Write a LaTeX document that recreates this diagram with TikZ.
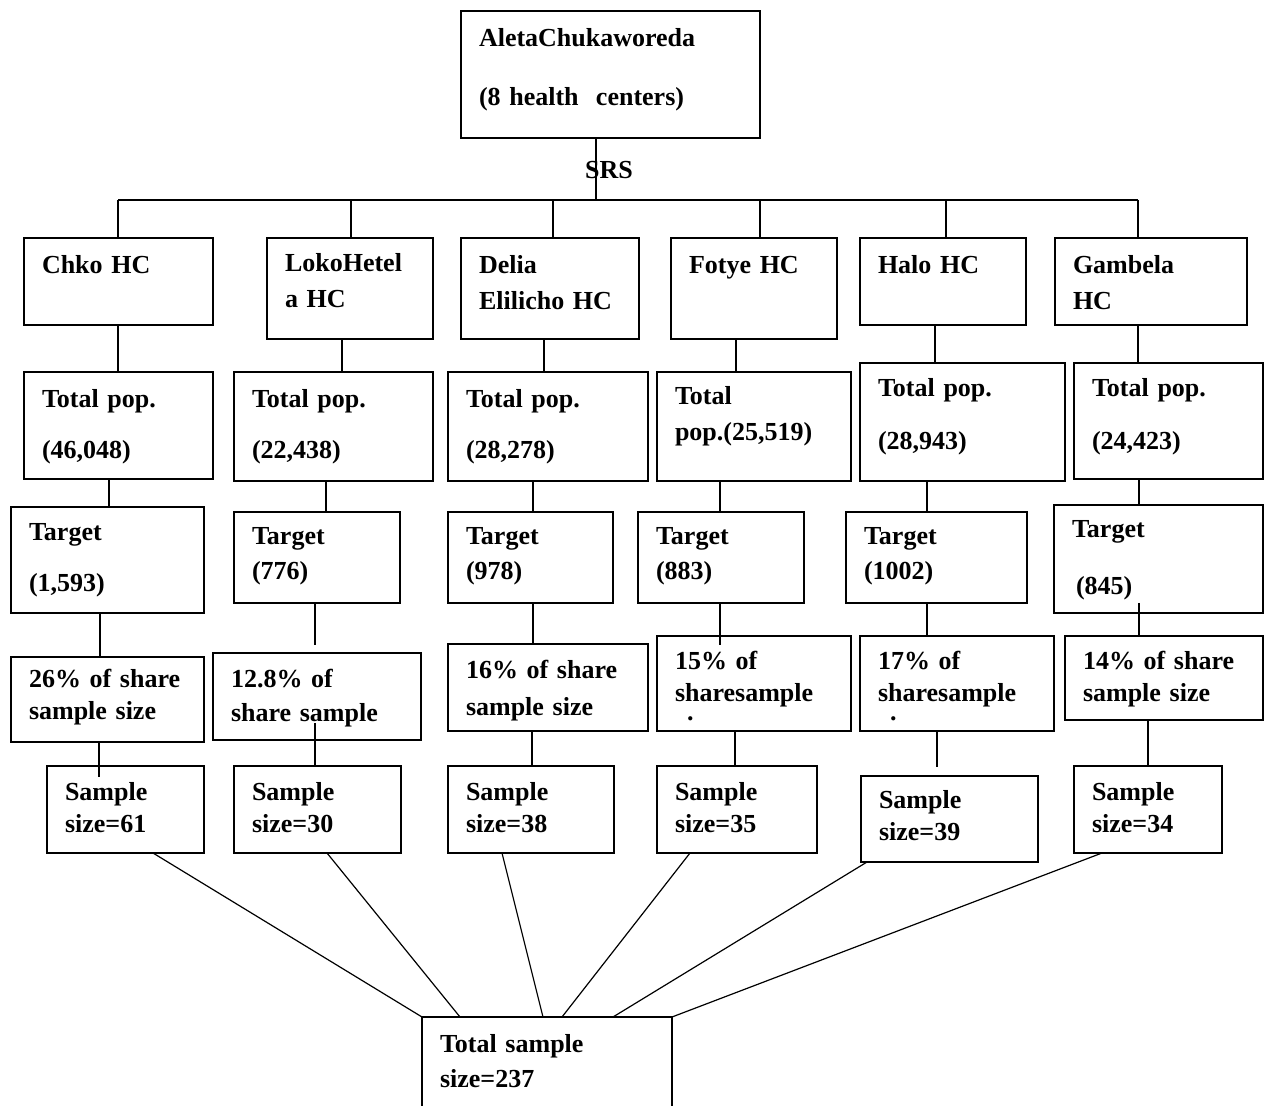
\documentclass[tikz,border=0pt]{standalone}
\usepackage{fontspec}
\setmainfont{Liberation Serif}
\usepackage{tikz}
\usetikzlibrary{calc, positioning}

\begin{document}
\begin{tikzpicture}[x=0.5pt, y=-0.5pt,
    bx/.style={draw, line width=0.8pt, rectangle, anchor=north west, align=left,
        inner xsep=9pt, inner ysep=0pt, outer sep=0pt, text height=18pt,
        font=\fontsize{13}{17}\selectfont\bfseries},
    sz/.style 2 args={text width=#1pt, text depth=#2pt},
    conn/.style={line width=0.7pt},
    fan/.style={line width=0.6pt}]
    \useasboundingbox (0,0) rectangle (1264,1106);

    % 1. Woreda
    \node[bx, sz={131.5}{45.5}] (top) at (461,11) {AletaChukaworeda\\[12.5pt](8 health\ \ centers)};
    \node[font=\fontsize{13}{17}\selectfont\bfseries] (srs) at (609,170) {SRS};

    % 2. Health centers
    \node[bx, sz={76.5}{25.5}] (chko-hc) at (24,238) {Chko HC};
    \node[bx, sz={65}{33.5}, text height=17pt] (loko-hc) at (267,238) {LokoHetel\\[1pt]a HC};
    \node[bx, sz={71}{32.5}] (delia-hc) at (461,238) {Delia\\[1pt]Elilicho HC};
    \node[bx, sz={65}{32.5}] (fotye-hc) at (671,238) {Fotye HC};
    \node[bx, sz={65}{25.5}] (halo-hc) at (860,238) {Halo HC};
    \node[bx, sz={78}{25.5}] (gamb-hc) at (1055,238) {Gambela\\[1pt]HC};

    % 3. Total population
    \node[bx, sz={76.5}{35.5}] (chko-pop) at (24,372) {Total pop.\\[8.5pt](46,048)};
    \node[bx, sz={81.5}{36.5}] (loko-pop) at (234,372) {Total pop.\\[8.5pt](22,438)};
    \node[bx, sz={82}{36.5}] (delia-pop) at (448,372) {Total pop.\\[8.5pt](28,278)};
    \node[bx, sz={79}{38}, text height=16.5pt] (fotye-pop) at (657,372) {Total\\[1pt]pop.(25,519)};
    \node[bx, sz={84.5}{42}, text height=17pt] (halo-pop) at (860,363) {Total pop.\\[9.5pt](28,943)};
    \node[bx, sz={76.5}{41}, text height=17pt] (gamb-pop) at (1074,363) {Total pop.\\[9.5pt](24,423)};

    % 4. Target
    \node[bx, sz={78.5}{36}, text height=17pt] (chko-tgt) at (11,507) {Target\\[8.5pt](1,593)};
    \node[bx, sz={65}{29}, text height=16.5pt] (loko-tgt) at (234,512) {Target\\[0.5pt](776)};
    \node[bx, sz={64.5}{29}, text height=16.5pt] (delia-tgt) at (448,512) {Target\\[0.5pt](978)};
    \node[bx, sz={65}{29}, text height=16.5pt] (fotye-tgt) at (638,512) {Target\\[0.5pt](883)};
    \node[bx, sz={72.5}{29}, text height=16.5pt] (halo-tgt) at (846,512) {Target\\[0.5pt](1002)};
    \node[bx, sz={86.5}{37.5}, text height=16.5pt] (gamb-tgt) at (1054,505) {Target\\[11.5pt]\hspace*{2pt}(845)};

    % 5. Share of sample
    \node[bx, sz={78.5}{27}, text height=15.5pt] (chko-shr) at (11,657) {26\% of share\\[-1pt]sample size};
    \node[bx, sz={86}{26}, text height=17.5pt] (loko-shr) at (213,653) {12.8\% of\\share sample};
    \node[bx, sz={82}{26}, text height=17.5pt] (delia-shr) at (448,644) {16\% of share\\[1.5pt]sample size};
    \node[bx, sz={79}{30.5}, text height=17pt] (fotye-shr) at (657,636) {15\% of\\[-1pt]sharesample\\[-8pt]\hspace*{6pt}.};
    \node[bx, sz={79}{30.5}, text height=17pt] (halo-shr) at (860,636) {17\% of\\[-1pt]sharesample\\[-8pt]\hspace*{6pt}.};
    \node[bx, sz={81}{25}, text height=17pt] (gamb-shr) at (1065,636) {14\% of share\\[-1pt]sample size};

    % 6. Sample size
    \node[bx, sz={60.5}{26.5}, text height=17pt] (chko-smp) at (47,766) {Sample\\[-1pt]size=61};
    \node[bx, sz={65.5}{26.5}, text height=17pt] (loko-smp) at (234,766) {Sample\\[-1pt]size=30};
    \node[bx, sz={65}{26.5}, text height=17pt] (delia-smp) at (448,766) {Sample\\[-1pt]size=38};
    \node[bx, sz={62}{26.5}, text height=17pt] (fotye-smp) at (657,766) {Sample\\[-1pt]size=35};
    \node[bx, sz={70.5}{27}, text height=16pt] (halo-smp) at (861,776) {Sample\\[-1pt]size=39};
    \node[bx, sz={56}{26.5}, text height=17pt] (gamb-smp) at (1074,766) {Sample\\[-1pt]size=34};

    \node[bx, sz={107}{47.5}, text height=17.5pt] (total) at (422,1017) {Total sample\\[0.5pt]size=237};

    % 7. Connectors
    \coordinate (busl) at (118,200);
    \coordinate (busr) at (1138,200);
    \draw[conn] (596,0 |- top.south) -- (596,0 |- busl);
    \draw[conn] (busl) -- (busr);
    \foreach \n/\x in {chko/118, loko/351, delia/553, fotye/760, halo/946, gamb/1138}
        \draw[conn] (\x,0 |- busl) -- (\x,0 |- \n-hc.north);
    \foreach \n/\x in {chko/118, loko/342, delia/544, fotye/736, halo/935, gamb/1138}
        \draw[conn] (\x,0 |- \n-hc.south) -- (\x,0 |- \n-pop.north);
    \foreach \n/\x in {chko/109, loko/326, delia/533, fotye/720, halo/927, gamb/1139}
        \draw[conn] (\x,0 |- \n-pop.south) -- (\x,0 |- \n-tgt.north);
    \foreach \n/\x/\a/\b in {chko/100/0/0, loko/315/0/-8, delia/533/0/0, fotye/720/0/9, halo/927/0/0, gamb/1139/-10/0}
        \draw[conn] ($(\x,0 |- \n-tgt.south)+(0,\a)$) -- ($(\x,0 |- \n-shr.north)+(0,\b)$);
    \foreach \n/\x/\a/\b in {chko/99/0/11, loko/315/-17/0, delia/532/0/0, fotye/735/0/0, halo/937/0/-9, gamb/1148/0/0}
        \draw[conn] ($(\x,0 |- \n-shr.south)+(0,\a)$) -- ($(\x,0 |- \n-smp.north)+(0,\b)$);
    \foreach \n/\a/\b in {chko/153/422, loko/327/460, delia/502/543, fotye/690/562, halo/867/613, gamb/1102/672}
        \draw[fan] (\a,0 |- \n-smp.south) -- (\b,0 |- total.north);

\end{tikzpicture}
\end{document}
